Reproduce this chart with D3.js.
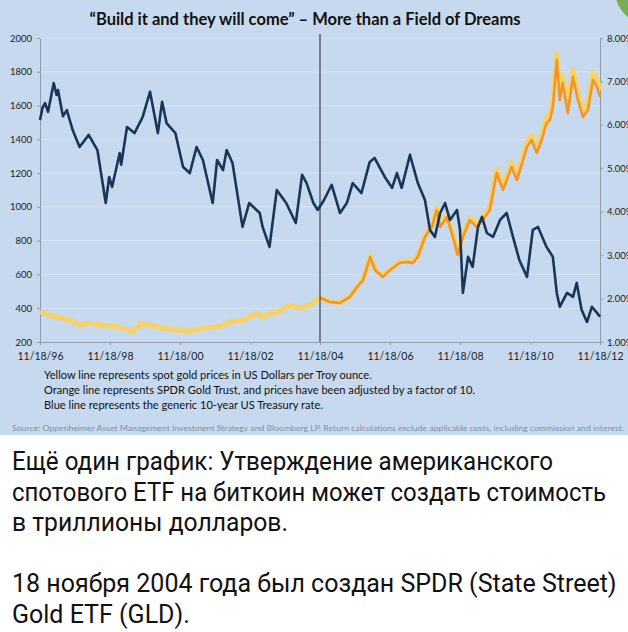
<!DOCTYPE html>
<html>
<head>
<meta charset="utf-8">
<script src="https://cdn.jsdelivr.net/npm/d3@7"></script>
<style>
  body { margin: 0; background: #fff; }
  svg { display: block; }
</style>
</head>
<body>
<svg id="chart" width="628" height="632"></svg>
<script>
// 10-year treasury rate (%), right axis
const rateDates = ["1996-11-18","1996-12-15","1997-01-10","1997-02-10","1997-04-10","1997-05-10","1997-05-25",
  "1997-07-15","1997-08-25","1997-10-25","1998-01-05","1998-04-10","1998-07-10","1998-10-05","1998-11-10",
  "1998-12-10","1999-02-28","1999-03-15","1999-05-15","1999-08-01","1999-10-25","2000-01-10","2000-04-01",
  "2000-05-15","2000-07-01","2000-10-01","2000-12-20","2001-02-28","2001-05-10","2001-07-15","2001-10-25",
  "2001-12-10","2002-02-10","2002-03-20","2002-05-20","2002-09-01","2002-11-10","2003-02-28","2003-03-30",
  "2003-06-10","2003-08-25","2003-12-01","2004-03-10","2004-05-15","2004-07-01","2004-09-10","2004-10-25",
  "2004-12-30","2005-03-20","2005-06-15","2005-08-25","2005-10-25","2006-01-25","2006-04-20","2006-06-10",
  "2006-09-25","2006-12-10","2007-01-30","2007-03-20","2007-06-15","2007-09-05","2007-11-18","2008-01-10",
  "2008-03-01","2008-04-25","2008-06-15","2008-08-05","2008-10-18","2008-11-18","2008-12-18","2009-02-10",
  "2009-03-30","2009-05-25","2009-07-05","2009-08-25","2009-10-28","2010-01-10","2010-03-20","2010-05-25",
  "2010-07-30","2010-10-18","2010-12-18","2011-02-10","2011-05-10","2011-07-15","2011-08-25","2011-09-25",
  "2011-12-10","2012-02-10","2012-03-20","2012-05-10","2012-07-05","2012-08-25","2012-10-18","2012-11-18"];
const rateValues = [6.11,6.40,6.50,6.30,6.96,6.69,6.80,
  6.20,6.34,5.88,5.49,5.77,5.42,4.20,4.80,
  4.57,5.35,5.08,5.95,5.81,6.18,6.76,5.81,
  6.53,6.04,5.81,5.03,4.89,5.49,5.19,4.20,
  5.19,4.96,5.42,5.12,3.65,4.20,3.97,3.65,
  3.19,4.50,4.20,3.74,4.85,4.66,4.20,4.04,
  4.27,4.62,3.97,4.20,4.66,4.43,5.14,5.24,
  4.80,4.55,4.89,4.55,5.31,4.66,4.27,3.58,
  3.42,3.97,4.20,3.81,4.04,3.58,2.13,2.96,
  2.73,3.65,3.88,3.51,3.42,3.81,3.97,3.42,
  2.89,2.50,3.58,3.65,3.19,2.96,2.13,1.81,
  2.13,2.04,2.36,1.74,1.46,1.81,1.67,1.58];

// spot gold, USD per troy ounce, left axis
const goldDates = ["1996-11-18","1997-03-01","1997-09-25","1998-01-05","1998-04-10","1998-09-05","1999-02-28",
  "1999-07-15","1999-10-01","2000-01-10","2000-05-25","2000-10-18","2001-03-01","2001-07-15","2001-12-10",
  "2002-04-20","2002-09-05","2003-02-01","2003-04-01","2003-06-10","2003-08-25","2004-01-10","2004-04-20",
  "2004-08-05","2004-10-25",
  "2004-11-18","2005-03-01","2005-06-15","2005-09-25","2005-12-10","2006-02-10","2006-04-25","2006-06-15",
  "2006-09-05","2006-11-18","2007-02-28","2007-05-10","2007-07-15","2007-09-05","2007-11-18","2008-01-30",
  "2008-03-20","2008-04-25","2008-07-05","2008-09-05","2008-10-25","2008-12-18","2009-03-01","2009-05-10",
  "2009-07-15","2009-09-25","2009-12-05","2010-02-10","2010-05-10","2010-07-05","2010-10-18","2010-12-05",
  "2011-01-28","2011-03-20","2011-05-10","2011-06-15","2011-07-15","2011-08-25","2011-09-25","2011-10-25",
  "2011-12-18","2012-02-10","2012-04-01","2012-05-25","2012-07-15","2012-09-05","2012-10-18","2012-11-18"];
const goldValues = [378,360,330,301,312,301,289,
  259,312,301,283,271,265,283,289,
  318,330,372,348,372,372,419,401,
  419,455,
  463,440,434,471,530,572,710,632,
  591,632,675,681,676,712,832,892,
  995,893,953,834,727,836,938,897,
  939,1000,1224,1122,1261,1183,1383,1425,
  1347,1426,1530,1548,1627,1905,1670,1773,
  1592,1810,1672,1570,1613,1795,1753,1693];

// SPDR Gold Trust (GLD) x 10, left axis
const gldDates = goldDates.slice(25);
const gldValues = [461,437,431,467,526,567,703,626,
  585,626,668,674,668,703,822,881,
  982,881,940,822,715,822,922,881,
  922,982,1201,1100,1236,1159,1355,1396,
  1319,1396,1497,1514,1591,1870,1633,1734,
  1556,1769,1633,1532,1574,1751,1710,1651];

const leftTicks = [200,400,600,800,1000,1200,1400,1600,1800,2000];
const rightTicks = [1,2,3,4,5,6,7,8];
const xTicks = ["1996-11-18","1998-11-18","2000-11-18","2002-11-18","2004-11-18",
  "2006-11-18","2008-11-18","2010-11-18","2012-11-18"];
const launchDate = "2004-11-18";

const titleText = "\u201cBuild it and they will come\u201d \u2013 More than a Field of Dreams";
const notes = ["Yellow line represents spot gold prices in US Dollars per Troy ounce.",
  "Orange line represents SPDR Gold Trust, and prices have been adjusted by a factor of 10.",
  "Blue line represents the generic 10-year US Treasury rate."];
const sourceText = "Source: Oppenheimer Asset Management Investment Strategy and Bloomberg LP. Return calculations exclude applicable costs, including commission and interest.";
const caption = ["Ещё один график: Утверждение американского",
  "спотового ETF на биткоин может создать стоимость",
  "в триллионы долларов.",
  "",
  "18 ноября 2004 года был создан SPDR (State Street)",
  "Gold ETF (GLD)."];
// widths the caption lines take in the screenshot (its font is a bit narrower for cyrillic)
const captionWidths = [541, 594, 276, 0, 0, 0];

const parse = d3.timeParse("%Y-%m-%d");
let chart = d3.select("#chart");

// background of the screenshot
chart.append("rect").attr("width", 628).attr("height", 435).attr("fill", "#c7d9ee");
chart.append("circle").attr("cx", 650).attr("cy", -10).attr("r", 35).attr("fill", "#79ad55");

xScale = d3.scaleTime()
  .domain([parse("1996-11-18"), parse("2012-11-18")])
  .range([40, 600]);
yLeft = d3.scaleLinear().domain([200, 2000]).range([342, 38]);
yRight = d3.scaleLinear().domain([1, 8]).range([342, 38]);

// gridlines
chart.selectAll("line.grid")
  .data(leftTicks.slice(1)).enter()
    .append("line")
      .attr("class", "grid")
      .attr("x1", 40).attr("x2", 600)
      .attr("y1", d => yLeft(d)).attr("y2", d => yLeft(d))
      .attr("stroke", "#d5e3f3").attr("stroke-width", 1);

let axisFont = "Lato, 'DejaVu Sans', sans-serif";

yAxis = chart.append("g")
  .attr("transform", "translate(40,0)")
  .call(d3.axisLeft(yLeft).tickValues(leftTicks).tickSize(3).tickSizeOuter(0).tickPadding(5)
    .tickFormat(d3.format("d")));

y2Axis = chart.append("g")
  .attr("transform", "translate(600,0)")
  .call(d3.axisRight(yRight).tickValues(rightTicks).tickSize(3).tickSizeOuter(0).tickPadding(4)
    .tickFormat(d => d3.format(".2f")(d) + "%"));

xAxis = chart.append("g")
  .attr("transform", "translate(0,342)")
  .call(d3.axisBottom(xScale).tickValues(xTicks.map(parse)).tickSize(3).tickSizeOuter(0).tickPadding(8)
    .tickFormat(d3.timeFormat("%m/%d/%y")));

chart.selectAll(".domain, .tick line").attr("stroke", "#8f9cab");
yAxis.selectAll("text").attr("font-size", 9.5).attr("font-family", axisFont).attr("fill", "#222");
y2Axis.selectAll("text").attr("font-size", 9.5).attr("font-family", axisFont).attr("fill", "#222");
xAxis.selectAll("text").attr("font-size", 10.5).attr("font-family", axisFont).attr("fill", "#222");

// series
let goldLine = d3.line().x(d => xScale(d[0])).y(d => yLeft(d[1]));
let rateLine = d3.line().x(d => xScale(d[0])).y(d => yRight(d[1]));

chart.append("path")
  .datum(goldDates.map((d, i) => [parse(d), goldValues[i]]))
  .attr("d", goldLine)
  .attr("fill", "none").attr("stroke", "#f8d264").attr("stroke-width", 5)
  .attr("stroke-linejoin", "round");

chart.append("path")
  .datum(gldDates.map((d, i) => [parse(d), gldValues[i]]))
  .attr("d", goldLine)
  .attr("fill", "none").attr("stroke", "#f0952a").attr("stroke-width", 2.5)
  .attr("stroke-linejoin", "round");

chart.append("line")
  .attr("x1", xScale(parse(launchDate))).attr("x2", xScale(parse(launchDate)))
  .attr("y1", yLeft(2000) - 4).attr("y2", yLeft(200))
  .attr("stroke", "#22262c").attr("stroke-width", 1);

chart.append("path")
  .datum(rateDates.map((d, i) => [parse(d), rateValues[i]]))
  .attr("d", rateLine)
  .attr("fill", "none").attr("stroke", "#1c3557").attr("stroke-width", 2.6)
  .attr("stroke-linejoin", "round");

// title and notes
chart.append("text")
  .text(titleText)
  .attr("x", 305).attr("y", 25)
  .style("text-anchor", "middle")
  .attr("font-family", axisFont).attr("font-size", 16.5).attr("font-weight", "bold")
  .attr("fill", "#111");

chart.selectAll("text.note")
  .data(notes).enter()
    .append("text")
      .attr("class", "note")
      .text(d => d)
      .attr("x", 44).attr("y", (d, i) => 379 + i * 15)
      .attr("font-family", axisFont).attr("font-size", 11.1).attr("fill", "#111");

chart.append("text")
  .text(sourceText)
  .attr("x", 12).attr("y", 431)
  .attr("textLength", 612).attr("lengthAdjust", "spacingAndGlyphs")
  .attr("font-family", axisFont).attr("font-size", 7.5).attr("fill", "#7f90a4");

// telegram caption below the picture
chart.selectAll("text.caption")
  .data(caption).enter()
    .append("text")
      .attr("class", "caption")
      .text(d => d)
      .attr("x", 12).attr("y", (d, i) => 470 + i * 30.5)
      .attr("font-family", "Roboto, sans-serif").attr("font-size", 25).attr("fill", "#111")
      .each(function(d, i) {
        if (captionWidths[i] > 0)
          d3.select(this).attr("textLength", captionWidths[i]).attr("lengthAdjust", "spacingAndGlyphs");
      });
</script>
</body>
</html>
